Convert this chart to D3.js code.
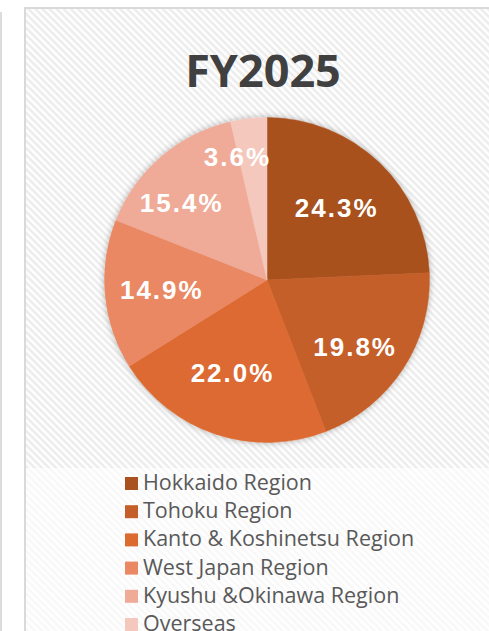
<!DOCTYPE html>
<html>
<head>
<meta charset="utf-8">
<script src="https://cdn.jsdelivr.net/npm/d3@7"></script>
<style>
  html, body { margin: 0; padding: 0; background: #ffffff; }
  svg { display: block; }
</style>
</head>
<body>
<svg id="chart" width="489" height="631"></svg>
<script>
const title = "FY2025";
const categories = [
  "Hokkaido Region",
  "Tohoku Region",
  "Kanto & Koshinetsu Region",
  "West Japan Region",
  "Kyushu &Okinawa Region",
  "Overseas"
];
const values = [24.3, 19.8, 22.0, 14.9, 15.4, 3.6];
const colors = ["#A9511F", "#C55F29", "#DC6B30", "#E98862", "#EFAB97", "#F4C8BD"];
// label placement tweaks (fraction of radius, angle shift in degrees)
const labelRadius = [0.62, 0.68, 0.61, 0.65, 0.71, 0.78];
const labelAngleShift = [0, 4, 2, 0, -7, -7];

const W = 489, H = 631;
const svg = d3.select("#chart");
const defs = svg.append("defs");

function hatch(id, color) {
  const p = defs.append("pattern")
    .attr("id", id).attr("patternUnits", "userSpaceOnUse")
    .attr("width", 5).attr("height", 5)
    .attr("patternTransform", "rotate(45)");
  p.append("rect").attr("width", 5).attr("height", 5).attr("fill", "#ffffff");
  p.append("rect").attr("width", 5).attr("height", 2.5).attr("fill", color);
}
hatch("hatchDark", "#ececec");
hatch("hatchLight", "#f8f8f8");

const shadow = defs.append("filter").attr("id", "shadow")
  .attr("x", "-20%").attr("y", "-20%").attr("width", "140%").attr("height", "140%");
shadow.append("feDropShadow").attr("dx", 0).attr("dy", 0)
  .attr("stdDeviation", 3).attr("flood-color", "#000").attr("flood-opacity", 0.3);

// outer left panel edge
svg.append("rect").attr("x", 0).attr("y", 12).attr("width", 2).attr("height", H - 12).attr("fill", "#dcdcdc");

// chart box
const box = { x: 25, y: 8 };
svg.append("rect").attr("x", box.x).attr("y", box.y).attr("width", W - box.x + 10).attr("height", H)
  .attr("fill", "url(#hatchLight)");
svg.append("rect").attr("x", box.x + 1).attr("y", box.y + 1).attr("width", W).attr("height", 468 - box.y - 1)
  .attr("fill", "url(#hatchDark)");
svg.append("rect").attr("x", box.x).attr("y", box.y).attr("width", W - box.x + 10).attr("height", H)
  .attr("fill", "none").attr("stroke", "#d9d9d9").attr("stroke-width", 2);

// title
svg.append("text").attr("x", 263).attr("y", 87)
  .attr("text-anchor", "middle")
  .attr("font-family", "'Open Sans', sans-serif").attr("font-weight", 700)
  .attr("font-size", 45).attr("fill", "#404040")
  .text(title);

// pie
const cx = 267, cy = 280, r = 162.5;
const data = categories.map((c, i) => ({ name: c, value: values[i], color: colors[i], i }));
const pie = d3.pie().sort(null).value(d => d.value);
const arcs = pie(data);
const arc = d3.arc().innerRadius(0).outerRadius(r);
const g = svg.append("g").attr("transform", `translate(${cx},${cy})`);
g.append("g").attr("filter", "url(#shadow)")
  .selectAll("path").data(arcs).join("path")
  .attr("d", arc).attr("fill", d => d.data.color)
  .attr("stroke", d => d.data.color).attr("stroke-width", 0.5);

const fmt = d3.format(".1f");
g.selectAll("text.lbl").data(arcs).join("text").attr("class", "lbl")
  .attr("transform", d => {
    const a = (d.startAngle + d.endAngle) / 2 + labelAngleShift[d.data.i] * Math.PI / 180;
    const rr = r * labelRadius[d.data.i];
    return `translate(${rr * Math.sin(a)},${-rr * Math.cos(a)})`;
  })
  .attr("text-anchor", "middle").attr("dy", "0.36em")
  .attr("font-family", "'Liberation Sans', Arial, sans-serif").attr("font-weight", 700)
  .attr("font-size", 26).attr("letter-spacing", 2).attr("fill", "#ffffff")
  .text(d => fmt(d.data.value) + "%");

// legend
const legend = svg.append("g");
const rowY = d3.scaleLinear().domain([0, 1]).range([490, 518.2]);
const item = legend.selectAll("g").data(data).join("g")
  .attr("transform", d => `translate(125,${rowY(d.i)})`);
item.append("rect").attr("x", 0).attr("y", -13).attr("width", 13).attr("height", 13)
  .attr("fill", d => d.color);
item.append("text").attr("x", 18).attr("y", 0)
  .attr("font-family", "'Open Sans', sans-serif").attr("font-size", 21.5).attr("fill", "#595959")
  .text(d => d.name);
</script>
</body>
</html>
